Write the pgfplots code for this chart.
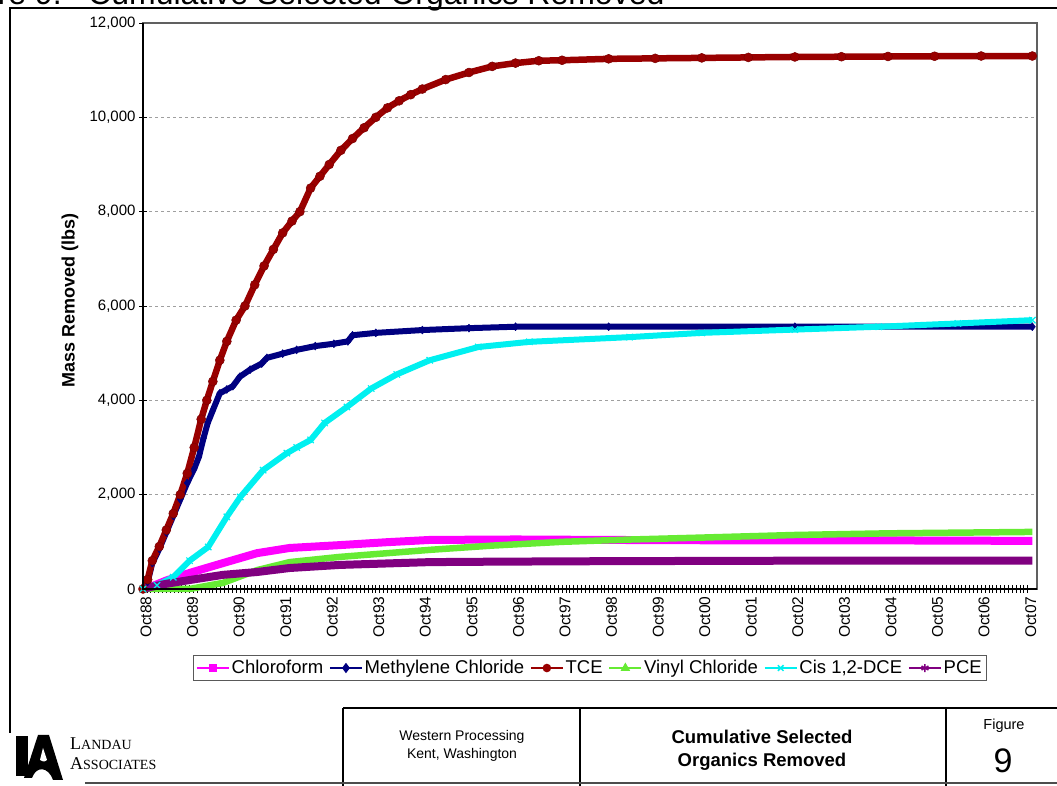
\documentclass[border=0pt]{standalone}
\usepackage{pgfplots}
\pgfplotsset{compat=1.18}
\usepackage{fontspec}
\setmainfont{Liberation Sans}
\newfontfamily\seriffont{Liberation Serif}
\definecolor{tce}{RGB}{153,0,0}
\definecolor{mecl}{RGB}{0,0,128}
\definecolor{chl}{RGB}{255,0,255}
\definecolor{vc}{RGB}{102,235,51}
\definecolor{dce}{RGB}{0,240,240}
\definecolor{pce}{RGB}{128,0,128}
\begin{document}
\begin{tikzpicture}
\useasboundingbox (0pt,0pt) rectangle (1057pt,786pt);
% page title (cut at top)
\node[anchor=base west, inner sep=0pt, font=\fontsize{32}{32}\selectfont] at (88pt,781pt) {Cumulative Selected Organics Removed};
\node[anchor=base east, inner sep=0pt, font=\fontsize{32}{32}\selectfont] at (62pt,781pt) {Figure 9.};
% frame
\draw[line width=2pt] (10pt,53pt) -- (10pt,778pt) -- (1060pt,778pt);
\begin{axis}[
  at={(143pt,197pt)}, anchor=south west,
  scale only axis, width=894pt, height=566pt,
  xmin=0, xmax=19.2, ymin=0, ymax=12000,
  clip=false,
  xtick={0,...,19},
  xticklabels={Oct88,Oct89,Oct90,Oct91,Oct92,Oct93,Oct94,Oct95,Oct96,Oct97,Oct98,Oct99,Oct00,Oct01,Oct02,Oct03,Oct04,Oct05,Oct06,Oct07},
  x tick label style={rotate=90, anchor=east, yshift=-3pt, font=\fontsize{15.5}{15.5}\selectfont},
  minor x tick num=11,
  tick pos=left,
  tick align=center,
  major tick length=8pt, minor tick length=8pt,
  tick style={black, line width=0.8pt},
  minor tick style={black, line width=0.7pt},
  ytick={0,2000,4000,6000,8000,10000,12000},
  scaled y ticks=false,
  y tick label style={font=\fontsize{15}{15}\selectfont, /pgf/number format/.cd, 1000 sep={,}, assume math mode=true},
  ymajorgrids,
  major grid style={dashed, gray!75, line width=0.9pt},
  axis line style={draw=gray!75!black, line width=1.2pt},
  ylabel={Mass Removed (lbs)},
  ylabel style={font=\fontsize{18}{18}\selectfont\bfseries, at={(axis description cs:-0.0817,0.51)}, anchor=center},
  legend style={at={(0.5,-0.1396)}, anchor=center, legend columns=6, draw=gray!70!black, line width=1pt,
    font=\fontsize{18.5}{18.5}\selectfont, inner sep=3pt,
    /tikz/every even column/.append style={column sep=4pt}},
  legend image code/.code={\draw[line width=1.5pt, mark repeat=2, mark phase=2] plot coordinates {(0pt,0pt) (16pt,0pt) (32pt,0pt)};},
]
\addlegendimage{chl, mark=square*, mark size=3.5pt}
\addlegendentry{Chloroform}
\addlegendimage{mecl, mark=diamond*, mark size=4pt}
\addlegendentry{Methylene Chloride}
\addlegendimage{tce, mark=*, mark size=3.5pt}
\addlegendentry{TCE}
\addlegendimage{vc, mark=triangle*, mark size=4pt}
\addlegendentry{Vinyl Chloride}
\addlegendimage{dce, mark=x, mark size=4pt}
\addlegendentry{Cis 1,2-DCE}
\addlegendimage{pce, mark=asterisk, mark size=4pt}
\addlegendentry{PCE}

% Chloroform
\addplot[chl, line width=8pt, line join=round, forget plot] coordinates {
(0,0) (0.15,40) (0.5,180) (1.0,340) (1.72,550) (2.45,760) (3.15,870) (4.22,930) (5.2,990) (6.16,1040) (8,1050) (10,1040) (13,1030) (16,1030) (19.1,1020)};
% Methylene chloride
\addplot[mecl, line width=6pt, line join=round, forget plot, mark=diamond*, mark size=4pt, mark options={line width=0.5pt}] coordinates {
(0,0) (0.1,150) (0.2,550) (0.35,850) (0.5,1200) (0.65,1550) (0.8,1900) (0.95,2250) (1.1,2550) (1.2,2800) (1.3,3200) (1.39,3520) (1.5,3790) (1.65,4150) (1.8,4230) (1.93,4300) (2.08,4500) (2.3,4650) (2.55,4780) (2.66,4900) (3.0,4990) (3.3,5070) (3.7,5150) (4.1,5200) (4.4,5250) (4.5,5380) (5.0,5430) (6.0,5490) (7.0,5530) (8.0,5560) (10,5560) (14,5560) (19.1,5560)};
% TCE
\addplot[tce, line width=6.5pt, line join=round, forget plot, mark=*, mark size=4.5pt, mark options={line width=0.5pt, fill=tce, draw=tce!80!black}] coordinates {
(0,0) (0.1,200) (0.2,600) (0.35,900) (0.5,1250) (0.65,1600) (0.8,2000) (0.95,2450) (1.1,3000) (1.25,3600) (1.37,4000) (1.5,4400) (1.65,4850) (1.8,5250) (2.0,5700) (2.19,6000) (2.4,6450) (2.6,6850) (2.8,7200) (3.0,7550) (3.2,7800) (3.37,8000) (3.6,8500) (3.8,8750) (4.0,9000) (4.25,9300) (4.5,9550) (4.75,9780) (5.0,10000) (5.25,10200) (5.5,10350) (5.75,10480) (6.0,10600) (6.5,10800) (7.0,10950) (7.5,11080) (8.0,11150) (8.5,11200) (9.0,11210) (10,11240) (11,11250) (12,11260) (13,11270) (14,11280) (15,11285) (16,11290) (17,11295) (18,11300) (19.1,11300)};
% Vinyl chloride
\addplot[vc, line width=6.5pt, line join=round, forget plot] coordinates {
(0,0) (1.0,0) (1.72,130) (2.45,400) (3.15,570) (4.22,680) (6.16,830) (7.5,920) (9,1000) (10.5,1050) (12,1090) (14,1145) (16,1180) (19.1,1210)};
% Cis 1,2-DCE
\addplot[dce, line width=6pt, line join=round, forget plot, mark=x, mark size=4.5pt, mark options={line width=1.2pt}] coordinates {
(0,0) (0.3,80) (0.65,250) (1.0,600) (1.4,890) (1.8,1530) (2.09,1950) (2.58,2520) (3.09,2880) (3.3,3000) (3.6,3160) (3.9,3520) (4.38,3860) (4.9,4250) (5.45,4550) (6.16,4850) (7.2,5130) (8.3,5240) (10.45,5340) (12,5430) (14,5500) (15.8,5560) (17.5,5630) (19.1,5700)};
% PCE
\addplot[pce, line width=8pt, line join=round, forget plot] coordinates {
(0,0) (0.15,40) (0.5,110) (1.0,190) (1.72,300) (2.45,360) (3.15,445) (4.22,510) (6.16,570) (7.66,580) (10,590) (14,600) (19.1,600)};
\end{axis}
% black left and bottom axis
\draw[black, line width=1.4pt] (143pt,763pt) -- (143pt,197pt) -- (1037pt,197pt);
% title block
\draw[line width=2.2pt] (343pt,78pt) -- (1060pt,78pt);
\draw[line width=1.2pt] (343pt,78pt) -- (343pt,0pt);
\draw[line width=1.2pt] (580pt,78pt) -- (580pt,0pt);
\draw[line width=1.2pt] (946pt,78pt) -- (946pt,0pt);
\draw[line width=1.2pt, gray!60!black] (85pt,3pt) -- (1060pt,3pt);
\node[align=center, font=\fontsize{14}{18}\selectfont] at (462pt,40pt) {Western Processing\\Kent, Washington};
\node[align=center, font=\fontsize{18.5}{23}\selectfont\bfseries] at (762pt,36pt) {Cumulative Selected\\Organics Removed};
\node[font=\fontsize{14.5}{14.5}\selectfont] at (1004pt,60pt) {Figure};
\node[font=\fontsize{34}{34}\selectfont] at (1003pt,25pt) {9};
% logo
\fill[black] (16pt,10pt) rectangle (28pt,50pt);
\fill[black] (24pt,8pt) -- (38pt,51pt) -- (49pt,51pt) -- (63pt,6pt) -- (53pt,6pt) .. controls (48pt,20pt) and (36pt,20pt) .. (32pt,8pt) -- cycle;
\fill[white] (40pt,26pt) -- (43pt,38pt) -- (47pt,26pt) .. controls (44pt,24pt) .. (40pt,26pt);
\node[anchor=base west, inner sep=0pt, font=\seriffont] at (70pt,36pt) {{\fontsize{18}{18}\selectfont L}{\fontsize{14}{14}\selectfont ANDAU}};
\node[anchor=base west, inner sep=0pt, font=\seriffont] at (70pt,16pt) {{\fontsize{18}{18}\selectfont A}{\fontsize{14}{14}\selectfont SSOCIATES}};
\end{tikzpicture}
\end{document}
